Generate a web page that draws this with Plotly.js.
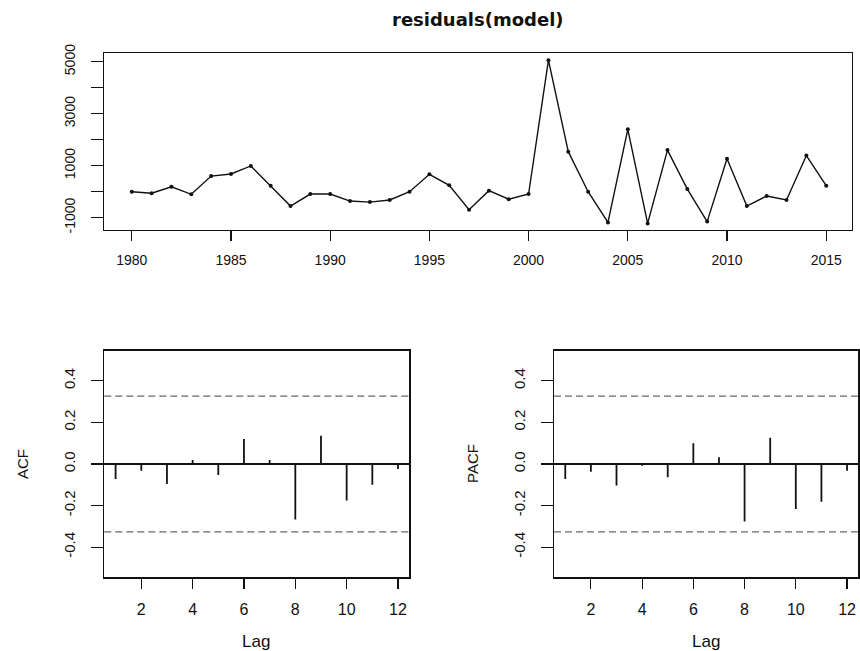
<!DOCTYPE html>
<html><head><meta charset="utf-8">
<script src="https://cdn.plot.ly/plotly-3.0.1.min.js"></script>
<style>html,body{margin:0;padding:0;background:#fff}#chart{width:860px;height:651px}</style>
</head><body><div id="chart"></div>
<script>
const years = [1980,1981,1982,1983,1984,1985,1986,1987,1988,1989,1990,1991,1992,1993,1994,1995,1996,1997,1998,1999,2000,2001,2002,2003,2004,2005,2006,2007,2008,2009,2010,2011,2012,2013,2014,2015];
const residuals = [0,-60,190,-100,600,680,990,230,-550,-90,-90,-360,-400,-320,0,670,245,-690,40,-290,-90,5060,1540,0,-1180,2400,-1220,1600,100,-1150,1270,-550,-165,-320,1390,230];
const yearTicks = [1980,1985,1990,1995,2000,2005,2010,2015];
const residTickVals = [-1000,0,1000,2000,3000,4000,5000];
const residTickText = ['-1000','','1000','','3000','','5000'];
const lags = [1,2,3,4,5,6,7,8,9,10,11,12];
const acfValues = [-0.072,-0.032,-0.096,0.019,-0.053,0.12,0.019,-0.267,0.136,-0.176,-0.10,-0.024];
const pacfValues = [-0.072,-0.037,-0.104,-0.008,-0.064,0.10,0.032,-0.277,0.126,-0.216,-0.181,-0.032];
const lagTicks = [2,4,6,8,10,12];
const corrTickVals = [-0.4,-0.2,0,0.2,0.4];
const corrTickText = ['-0.4','-0.2','0.0','0.2','0.4'];
const confLimit = 0.3267;

const W = 860, H = 651;
const fx = p => p / W;
const fy = p => (H - p) / H;
const FONT = '"Liberation Sans", Arial, Helvetica, sans-serif';
const INK = '#111';

function xax(domain, range, ticks, size) {
  return {domain: domain, range: range, tickvals: ticks, ticks: 'outside', ticklen: 10, tickwidth: 1.2,
    tickcolor: INK, showline: true, mirror: true, linecolor: INK, linewidth: 1.3, showgrid: false,
    zeroline: false, automargin: false, ticklabelstandoff: 7, tickfont: {family: FONT, size: size, color: INK}};
}
function yax(domain, range, vals, text, size, zl) {
  return {domain: domain, range: range, tickvals: vals, ticktext: text, tickangle: -90, ticks: 'outside',
    ticklen: 12, tickwidth: 1.2, tickcolor: INK, showline: true, mirror: true, linecolor: INK, linewidth: 1.3,
    showgrid: false, zeroline: zl, zerolinecolor: INK, zerolinewidth: 1.6, automargin: false,
    ticklabelstandoff: 10, tickfont: {family: FONT, size: size, color: INK}};
}

// spikes from lag value down to zero, built from the data arrays
function spikes(xs, ys) {
  const sx = [], sy = [];
  xs.forEach((x, i) => { sx.push(x, x, null); sy.push(0, ys[i], null); });
  return {x: sx, y: sy};
}
const acfSp = spikes(lags, acfValues);
const pacfSp = spikes(lags, pacfValues);

const traces = [
  {type: 'scatter', mode: 'lines+markers', x: years, y: residuals, xaxis: 'x', yaxis: 'y',
   line: {color: INK, width: 1.4}, marker: {color: INK, size: 4}},
  {type: 'scatter', mode: 'lines', x: acfSp.x, y: acfSp.y, xaxis: 'x2', yaxis: 'y2',
   line: {color: INK, width: 1.8}, connectgaps: false},
  {type: 'scatter', mode: 'lines', x: pacfSp.x, y: pacfSp.y, xaxis: 'x3', yaxis: 'y3',
   line: {color: INK, width: 1.8}, connectgaps: false}
];

function dashed(xr, yr, v) {
  return {type: 'line', xref: xr + ' domain', yref: yr, x0: 0, x1: 1, y0: v, y1: v,
    line: {color: '#666', width: 1.2, dash: '7px,4px'}};
}

const layout = {
  width: W, height: H, margin: {l: 0, r: 0, t: 0, b: 0}, showlegend: false,
  paper_bgcolor: '#fff', plot_bgcolor: '#fff',
  xaxis: xax([fx(104), fx(852)], [1978.6, 2016.3], yearTicks, 14),
  yaxis: yax([fy(230), fy(53.3)], [-1473, 5323], residTickVals, residTickText, 14, false),
  xaxis2: Object.assign(xax([fx(104.3), fx(409.3)], [0.56, 12.44], lagTicks, 16), {anchor: 'y2'}),
  yaxis2: Object.assign(yax([fy(577.3), fy(350.7)], [-0.545, 0.545], corrTickVals, corrTickText, 15, true), {anchor: 'x2'}),
  xaxis3: Object.assign(xax([fx(554), fx(858.3)], [0.56, 12.44], lagTicks, 16), {anchor: 'y3'}),
  yaxis3: Object.assign(yax([fy(577.3), fy(350.7)], [-0.545, 0.545], corrTickVals, corrTickText, 15, true), {anchor: 'x3'}),
  shapes: [dashed('x2', 'y2', confLimit), dashed('x2', 'y2', -confLimit),
           dashed('x3', 'y3', confLimit), dashed('x3', 'y3', -confLimit)],
  annotations: [
    {text: '<b>residuals(model)</b>', xref: 'paper', yref: 'paper', x: fx(478), y: fy(19),
     showarrow: false, xanchor: 'center', yanchor: 'middle', font: {family: '"DejaVu Sans", sans-serif', size: 18, color: INK}},
    {text: 'ACF', xref: 'paper', yref: 'paper', x: fx(22), y: fy(464), textangle: -90,
     showarrow: false, xanchor: 'center', yanchor: 'middle', font: {family: FONT, size: 15, color: INK}},
    {text: 'PACF', xref: 'paper', yref: 'paper', x: fx(472), y: fy(464), textangle: -90,
     showarrow: false, xanchor: 'center', yanchor: 'middle', font: {family: FONT, size: 15, color: INK}},
    {text: 'Lag', xref: 'paper', yref: 'paper', x: fx(256), y: fy(641),
     showarrow: false, xanchor: 'center', yanchor: 'middle', font: {family: FONT, size: 17, color: INK}},
    {text: 'Lag', xref: 'paper', yref: 'paper', x: fx(706), y: fy(641),
     showarrow: false, xanchor: 'center', yanchor: 'middle', font: {family: FONT, size: 17, color: INK}}
  ]
};

Plotly.newPlot('chart', traces, layout, {displayModeBar: false, staticPlot: true});
</script>
</body></html>
